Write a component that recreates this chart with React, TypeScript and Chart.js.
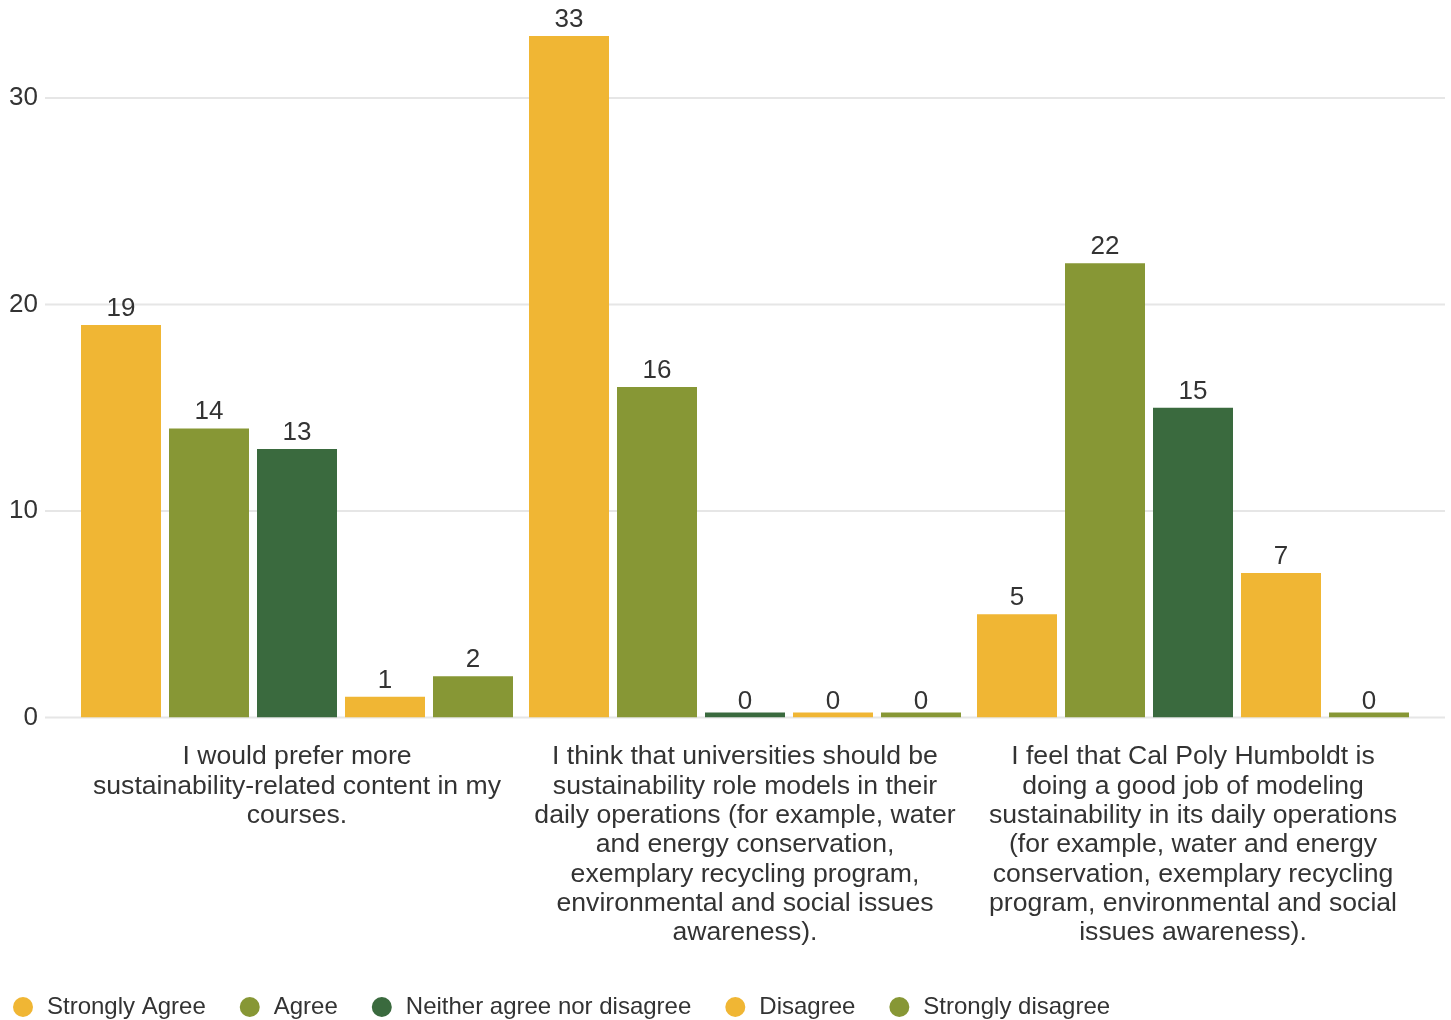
import React, { useEffect, useRef } from "react";
import { Chart, registerables } from "chart.js";

Chart.register(...registerables);

const categories: string[][] = [
  ["I would prefer more", "sustainability-related content in my", "courses."],
  [
    "I think that universities should be",
    "sustainability role models in their",
    "daily operations (for example, water",
    "and energy conservation,",
    "exemplary recycling program,",
    "environmental and social issues",
    "awareness).",
  ],
  [
    "I feel that Cal Poly Humboldt is",
    "doing a good job of modeling",
    "sustainability in its daily operations",
    "(for example, water and energy",
    "conservation, exemplary recycling",
    "program, environmental and social",
    "issues awareness).",
  ],
];

const seriesNames = ["Strongly Agree", "Agree", "Neither agree nor disagree", "Disagree", "Strongly disagree"];
const stronglyAgree = [19, 33, 5];
const agree = [14, 16, 22];
const neither = [13, 0, 15];
const disagree = [1, 0, 7];
const stronglyDisagree = [2, 0, 0];
const seriesColors = ["#F0B634", "#879735", "#3A6A3E", "#F0B634", "#879735"];

const yTicks = [0, 10, 20, 30];
const yMax = 33;

const FONT = "'Liberation Sans', Arial, sans-serif";
const TEXT = "#333333";

const gridPlugin = {
  id: "extendedGrid",
  beforeDatasetsDraw(chart: any) {
    const { ctx, chartArea, scales } = chart;
    const y = scales.y;
    ctx.save();
    ctx.strokeStyle = "#e6e6e6";
    ctx.lineWidth = 2;
    y.ticks.forEach((t: any) => {
      const py = y.getPixelForValue(t.value);
      ctx.beginPath();
      ctx.moveTo(chartArea.left - 28, py);
      ctx.lineTo(chartArea.right + 28, py);
      ctx.stroke();
    });
    ctx.restore();
  },
};

const valueLabelPlugin = {
  id: "valueLabels",
  afterDatasetsDraw(chart: any) {
    const { ctx, scales } = chart;
    ctx.save();
    ctx.font = `26px ${FONT}`;
    ctx.fillStyle = TEXT;
    ctx.textAlign = "center";
    ctx.textBaseline = "alphabetic";
    chart.data.datasets.forEach((ds: any, di: number) => {
      const meta = chart.getDatasetMeta(di);
      meta.data.forEach((el: any, i: number) => {
        const v = ds.data[i];
        const py = scales.y.getPixelForValue(v) - 9;
        ctx.fillText(String(v), el.x, py);
      });
    });
    ctx.restore();
  },
};

export default function App() {
  const ref = useRef<HTMLCanvasElement | null>(null);

  useEffect(() => {
    if (!ref.current) return;
    const values = [stronglyAgree, agree, neither, disagree, stronglyDisagree];
    const chart = new Chart(ref.current, {
      type: "bar",
      data: {
        labels: categories,
        datasets: seriesNames.map((name, i) => ({
          label: name,
          data: values[i],
          backgroundColor: seriesColors[i],
          borderWidth: 0,
          minBarLength: 5,
          categoryPercentage: 440 / 448,
          barPercentage: 80 / 88,
        })),
      },
      options: {
        responsive: false,
        animation: false,
        events: [],
        layout: { padding: { left: -21, right: 34, top: 36, bottom: -9 } },
        plugins: {
          tooltip: { enabled: false },
          legend: {
            position: "bottom",
            align: "start",
            labels: {
              usePointStyle: true,
              pointStyle: "circle",
              boxHeight: 14.14,
              padding: 32,
              color: TEXT,
              font: { family: FONT, size: 24 },
            },
          },
        },
        scales: {
          x: {
            type: "category",
            offset: true,
            grid: { display: false, drawTicks: false },
            border: { display: false },
            ticks: {
              color: TEXT,
              font: { family: FONT, size: 26.6, lineHeight: 1.1 },
              padding: 25,
              maxRotation: 0,
              minRotation: 0,
              autoSkip: false,
            },
            afterFit: (s: any) => {
              s.height = 245.5;
              s.paddingLeft = 0;
              s.paddingRight = 0;
            },
          },
          y: {
            min: 0,
            max: yMax,
            grid: { display: false, drawTicks: false },
            border: { display: false },
            afterBuildTicks: (s: any) => {
              s.ticks = yTicks.map((v) => ({ value: v }));
            },
            ticks: {
              color: TEXT,
              font: { family: FONT, size: 26 },
              padding: 35,
              stepSize: 10,
            },
            afterFit: (s: any) => {
              s.width = 94;
              s.paddingTop = 0;
              s.paddingBottom = 0;
            },
          },
        },
      },
      plugins: [gridPlugin, valueLabelPlugin],
    });
    return () => chart.destroy();
  }, []);

  return (
    <div style={{ position: "absolute", left: 0, top: 0, width: 1451, height: 1020, background: "#fff" }}>
      <canvas ref={ref} width={1451} height={1020} style={{ display: "block" }} />
    </div>
  );
}
